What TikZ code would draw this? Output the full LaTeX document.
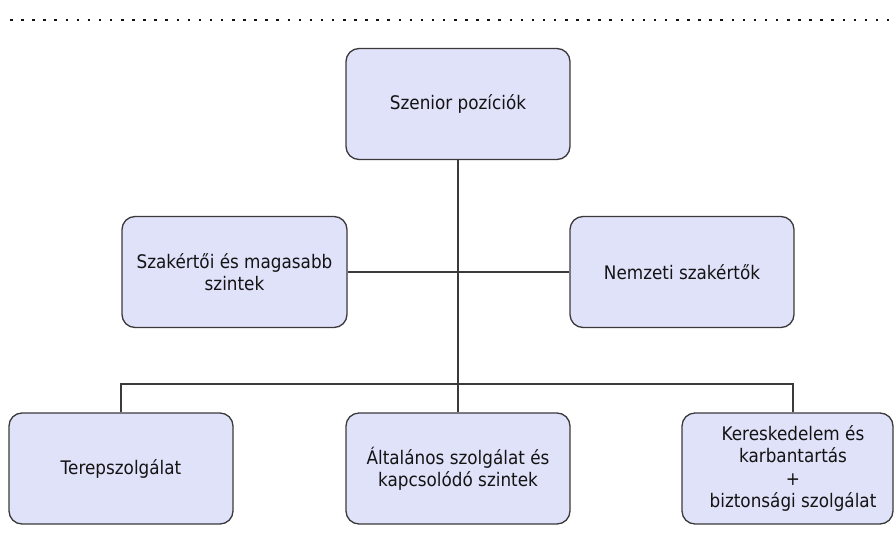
\documentclass[tikz,border=0pt]{standalone}
\usepackage{fontspec}
\setmainfont{DejaVu Sans}[FakeStretch=0.9]
\definecolor{boxfill}{RGB}{224,226,250}
\definecolor{boxline}{RGB}{58,58,58}
\definecolor{txt}{RGB}{20,20,20}
\begin{document}
\begin{tikzpicture}[x=1pt,y=-1pt,
  orgbox/.style={draw=boxline, fill=boxfill, line width=1.3pt, rounded corners=13pt,
    minimum width=224pt, minimum height=111pt, inner sep=0pt, align=center,
    text=txt, font=\fontsize{18.7}{22.3}\selectfont},
  plaintext/.style={inner sep=0pt, align=center, text=txt, font=\fontsize{18.7}{22.3}\selectfont},
  link/.style={draw=boxline, line width=1.4pt}]
\useasboundingbox (0,0) rectangle (894,551);
\draw[line width=2.5pt, color=txt, dash pattern=on 2.5pt off 8.6pt] (10,20) -- (894,20);

\node[orgbox] (sp) at (458,104) {Szenior pozíciók};
\node[orgbox, minimum width=225pt] (sk) at (234.5,272) {Szakértői és magasabb\\szintek};
\node[orgbox] (nz) at (682,272) {Nemzeti szakértők};
\node[orgbox] (tp) at (121,468.5) {Terepszolgálat};
\node[orgbox] (al) at (458,468.5) {Általános szolgálat és\\kapcsolódó szintek};
\node[orgbox, minimum width=211pt] (kb) at (787.5,468.5) {};
\node[plaintext] (kbt) at (793,468.5) {Kereskedelem és\\karbantartás\\+\\biztonsági szolgálat};

\coordinate (bus) at (0,384);
\draw[link] (sp.south) -- (al.north);
\draw[link] (sk.east) -- (nz.west);
\draw[link] (tp.north) |- (bus -| kbt) -- (kbt |- kb.north);
\end{tikzpicture}
\end{document}
